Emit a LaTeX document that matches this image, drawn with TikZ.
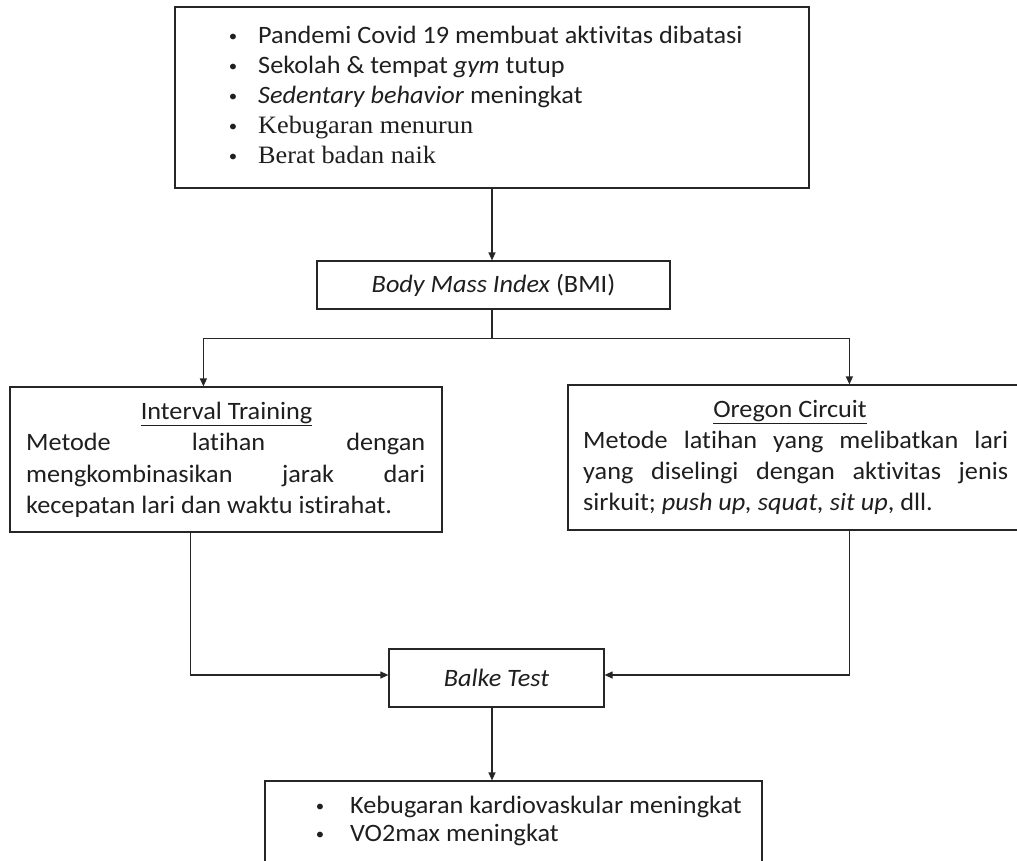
\documentclass[tikz,border=0pt]{standalone}
\usepackage{fontspec}
\setmainfont{Carlito}[FakeStretch=1.05, RawFeature={-liga;-clig;-dlig}]
\newfontfamily\tnr{Liberation Serif}[FakeStretch=1.05]
\usetikzlibrary{arrows.meta,calc}
\newcommand{\mybul}{{\fontsize{16}{16}\selectfont\textbullet}}
\begin{document}
\begin{tikzpicture}[x=1pt,y=-1pt,
  font=\fontsize{25}{30}\selectfont,
  box/.style={draw=black!85, line width=1.2pt, inner sep=0pt, fill=white},
  arr/.style={draw=black!85, line width=1.2pt, -{Triangle[length=8pt,width=7pt]}},
  conn/.style={draw=black!85, line width=1.2pt},
  txt/.style={anchor=base west, inner sep=0pt, text=black!88},
  ctxt/.style={anchor=base, inner sep=0pt, text=black!88},
  bul/.style={anchor=base, inner sep=0pt, text=black!88}]
\useasboundingbox (0,0) rectangle (1017,860);
\fill[white] (0,0) rectangle (1017,860);
\begin{scope}
\clip (0,0) rectangle (1017,860);
% boxes
\node[box, minimum width=634pt, minimum height=181pt] (top) at (492,97.5) {};
\node[box, minimum width=353pt, minimum height=48pt, text=black!88] (bmi) at (493.5,285) {\textit{Body Mass Index} (BMI)};
\node[box, minimum width=432pt, minimum height=145pt] (left) at (226,459.5) {};
\node[box, minimum width=455pt, minimum height=145pt] (right) at (795.5,457.5) {};
\node[box, minimum width=215pt, minimum height=58pt, text=black!88] (balke) at (496.5,678) {\textit{Balke Test}};
\node[box, minimum width=497pt, minimum height=119pt] (bottom) at (513.5,840.5) {};
\end{scope}
% top box text
\node[bul] (b1) at (233,41) {\mybul};
\node[txt] (t1) at (258,43) {Pandemi Covid 19 membuat aktivitas dibatasi};
\node[bul] (b2) at (233,71) {\mybul};
\node[txt] (t2) at (258,73) {Sekolah \& tempat \textit{gym} tutup};
\node[bul] (b3) at (233,101) {\mybul};
\node[txt] (t3) at (258,103) {\textit{Sedentary behavior} meningkat};
\node[bul] (b4) at (233,131) {\mybul};
\node[txt] (t4) at (258,133) {\tnr Kebugaran menurun};
\node[bul] (b5) at (233,161) {\mybul};
\node[txt] (t5) at (258,163) {\tnr Berat badan naik};
% left box text
\node[ctxt] (lt) at (226.5,419) {\underline{Interval Training}};
\node[txt] (l1) at (26,450) {\makebox[399pt][s]{Metode latihan dengan}};
\node[txt] (l2) at (26,482) {\makebox[399pt][s]{mengkombinasikan jarak dari}};
\node[txt] (l3) at (26,513) {kecepatan lari dan waktu istirahat.};
% right box text
\node[ctxt] (rt) at (790,417) {\underline{Oregon Circuit}};
\node[txt] (r1) at (583,448) {\makebox[425pt][s]{Metode latihan yang melibatkan lari}};
\node[txt] (r2) at (583,479) {\makebox[425pt][s]{yang diselingi dengan aktivitas jenis}};
\node[txt] (r3) at (583,510) {sirkuit; \textit{push up, squat, sit up}, dll.};
% bottom box text
\node[bul] (c1) at (320,811) {\mybul};
\node[txt] (k1) at (350,813) {Kebugaran kardiovaskular meningkat};
\node[bul] (c2) at (320,839) {\mybul};
\node[txt] (k2) at (350,841) {VO2max meningkat};
% connectors
\draw[arr] (top.south) -- (top.south |- bmi.north);
\path (top.south |- bmi.south) ++(0,29) coordinate (split);
\draw[conn] (top.south |- bmi.south) -- (split);
\draw[arr] (split) -| ($(left.north west)+(194,0)$);
\draw[arr] (split) -| ($(right.north west)+(282,0)$);
\draw[arr] ($(left.south west)+(181,0)$) |- ($(balke.west)+(0,-3)$);
\draw[arr] ($(right.south west)+(282,0)$) |- ($(balke.east)+(0,-3)$);
\draw[arr] ($(balke.south)+(-4.5,0)$) coordinate (bs) -- (bs |- bottom.north);
\end{tikzpicture}
\end{document}
